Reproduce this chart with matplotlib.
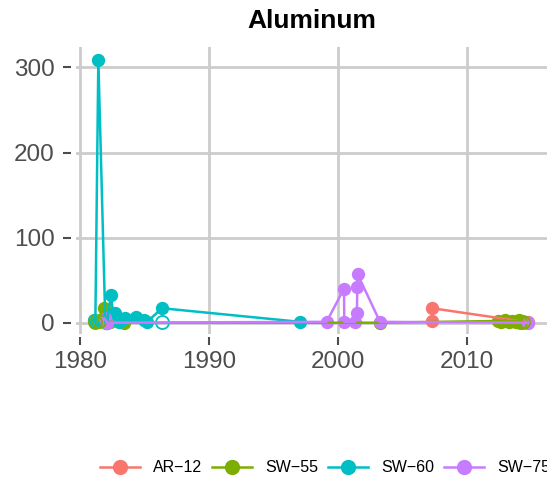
import matplotlib
matplotlib.use('Agg')
import matplotlib.pyplot as plt
from matplotlib.lines import Line2D

plt.rcParams['font.family'] = ['Liberation Sans', 'DejaVu Sans']

# site colours (ggplot hue palette)
sites = ['AR\u221212', 'SW\u221255', 'SW\u221260', 'SW\u221275']
colors = ['#F8766D', '#7CAE00', '#00BFC4', '#C77CFF']

# sample dates (decimal years) and aluminum values
ar12_x = [2007.25, 2007.27, 2014.73]
ar12_y = [1.5, 17, 0.5]

sw55_x = [1981.3, 1981.83, 1982.0, 1982.3, 1983.4, 2003.2,
          2012.4, 2012.6, 2012.9, 2013.2, 2013.5, 2013.8, 2014.0, 2014.3]
sw55_y = [1, 17, 0, 1, 0, 0,
          2, 1, 3, 1, 2, 1, 3, 1]

sw60_x = [1981.06, 1981.19, 1981.42, 1981.96, 1982.1, 1982.4, 1982.6, 1982.74,
          1983.0, 1983.5, 1984.3, 1984.93, 1985.2, 1986.35, 1997.04]
sw60_y = [3, 1, 309, 1, 0, 33, 5, 11,
          1, 5, 7, 3, 1, 17, 1]

sw75_x = [1981.9, 1982.1, 1999.1, 2000.45, 2000.47, 2001.3, 2001.45, 2001.48,
          2001.5, 2003.24, 2014.7]
sw75_y = [5, 0, 1, 40, 1, 1, 11, 42, 57, 1, 0]

# open circles (non-detects)
open_x = [[], [1981.2, 1981.5, 2014.1, 2014.3], [1986.35], []]
open_y = [[], [1, 2, 1, 1], [1], []]

xs = [ar12_x, sw55_x, sw60_x, sw75_x]
ys = [ar12_y, sw55_y, sw60_y, sw75_y]

fig = plt.figure(figsize=(5.47, 4.82), dpi=100)
ax = fig.add_axes([75.5 / 547, (482 - 334) / 482, (547 - 75.5) / 547, (334 - 46.7) / 482])

# points first, lines drawn over them
for x, y, c in zip(xs, ys, colors):
    ax.plot(x, y, 'o', color=c, markersize=9.6, markeredgewidth=0, zorder=3)
for ox, oy, c in zip(open_x, open_y, colors):
    ax.plot(ox, oy, 'o', markerfacecolor='none', markeredgecolor=c,
            markersize=9.4, markeredgewidth=1.3, zorder=3)
for x, y, c in zip(xs, ys, colors):
    ax.plot(x, y, '-', color=c, linewidth=1.8, zorder=4)

ax.set_xlim(1980 - (80 - 75.5) / 12.91, 1980 + (547 - 80) / 12.91)
ax.set_ylim(-(334 - 322.7) / 0.851, (322.7 - 46.7) / 0.851)
ax.set_xticks([1980, 1990, 2000, 2010])
ax.set_yticks([0, 100, 200, 300])

ax.grid(True, color='#cccccc', linewidth=2.0)
ax.set_axisbelow(True)
for s in ax.spines.values():
    s.set_visible(False)
ax.spines['left'].set_position(('outward', 3))
ax.spines['bottom'].set_position(('outward', 2.5))
ax.tick_params(axis='both', direction='out', length=6, width=1.5,
               color='#4d4d4d', labelcolor='#4d4d4d', labelsize=17.5)
ax.tick_params(axis='y', pad=6)
ax.tick_params(axis='x', pad=4)

fig.text(311.5 / 547, (482 - 28) / 482, 'Aluminum', ha='center', va='baseline',
         fontsize=19, fontweight='bold')

handles = [Line2D([], [], color=c, linewidth=1.8, marker='o', markersize=11,
                  markeredgewidth=0) for c in colors]
fig.legend(handles, sites, loc='center left', bbox_to_anchor=(100 / 547, (482 - 468) / 482),
           ncol=4, frameon=False, fontsize=11.5, handlelength=2.5,
           handletextpad=0.8, columnspacing=0.65, borderpad=0, borderaxespad=0)

fig.savefig('out.png', dpi=100)
